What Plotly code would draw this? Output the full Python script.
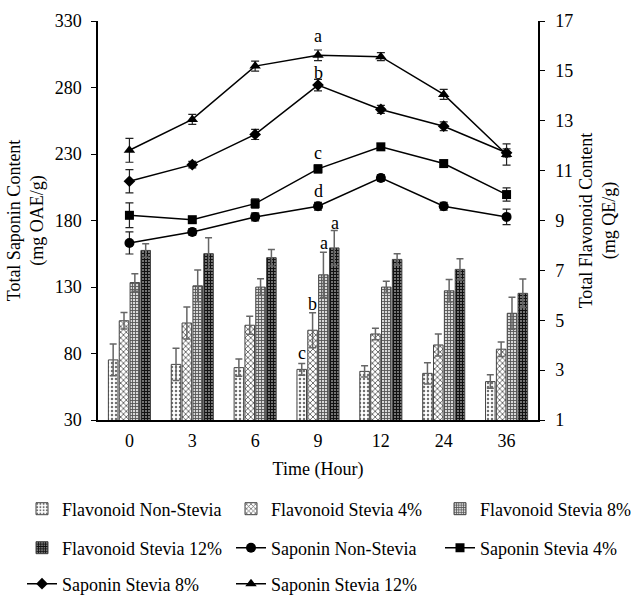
import plotly.graph_objects as go

times = ["0", "3", "6", "9", "12", "24", "36"]

# Flavonoid (right axis, mg QE/g)
flav_ns = [3.41, 3.23, 3.10, 3.03, 2.95, 2.87, 2.54]
flav_4 = [4.98, 4.89, 4.80, 4.60, 4.45, 4.01, 3.84]
flav_8 = [6.51, 6.38, 6.33, 6.82, 6.33, 6.18, 5.28]
flav_12 = [7.80, 7.67, 7.51, 7.90, 7.44, 7.04, 6.08]
flav_ns_err = [0.64, 0.65, 0.35, 0.24, 0.23, 0.43, 0.27]
flav_4_err = [0.33, 0.64, 0.36, 0.70, 0.23, 0.44, 0.29]
flav_8_err = [0.35, 0.64, 0.33, 0.91, 0.23, 0.45, 0.64]
flav_12_err = [0.27, 0.64, 0.33, 0.70, 0.23, 0.43, 0.57]

# Saponin (left axis, mg OAE/g)
sap_ns = [163.1, 171.4, 182.7, 190.7, 212.0, 190.7, 182.7]
sap_4 = [183.9, 180.6, 192.7, 218.8, 235.4, 222.8, 199.5]
sap_8 = [209.5, 222.0, 244.7, 281.8, 263.5, 250.9, 230.9]
sap_12 = [232.8, 256.0, 296.1, 304.2, 303.2, 274.8, 229.6]
sap_ns_err = [8.3, 2.5, 3.0, 3.0, 2.5, 3.0, 5.8]
sap_4_err = [9.3, 2.0, 3.5, 3.0, 2.5, 2.5, 5.0]
sap_8_err = [8.8, 2.5, 3.8, 4.3, 3.0, 3.3, 3.0]
sap_12_err = [9.0, 3.8, 3.8, 4.0, 3.0, 3.8, 8.0]

# significance letters (at time "9")
letter_time = "9"
sap_letters = ["a", "b", "c", "d"]
sap_letter_y = [318.5, 291.0, 231.0, 202.0]
flav_letters = ["c", "b", "a", "a"]
flav_letter_y = [3.69, 5.65, 8.10, 8.90]

font = "Liberation Serif"
W, H = 634, 595
fig = go.Figure()

# legend slots: (text-left x px, row centre y px)
col_x = [22, 231, 440]
row_y = [509, 548, 584]
slots = [(0, 0), (1, 0), (2, 0), (0, 1), (1, 1), (2, 1), (0, 2), (1, 2)]
legend_ids = ["legend"] + ["legend%d" % i for i in range(2, 9)]

bar_specs = [
    ("Flavonoid Non-Stevia", flav_ns, flav_ns_err, ".", "#ffffff", "#707070", 4, 0.3),
    ("Flavonoid Stevia 4%", flav_4, flav_4_err, "x", "#ffffff", "#606060", 4, 0.4),
    ("Flavonoid Stevia 8%", flav_8, flav_8_err, "+", "#d8d8d8", "#555555", 3, 0.5),
    ("Flavonoid Stevia 12%", flav_12, flav_12_err, "+", "#b0b0b0", "#111111", 3, 0.7),
]
k = 0
for name, vals, err, shape, bg, fg, size, sol in bar_specs:
    fig.add_trace(go.Bar(
        x=times, y=vals, name=name, yaxis="y", legend=legend_ids[k],
        marker=dict(color=bg, line=dict(color="#444444", width=1),
                    pattern=dict(shape=shape, bgcolor=bg, fgcolor=fg, size=size,
                                 solidity=sol, fillmode="replace")),
        error_y=dict(type="data", array=err, visible=True, color="#666666",
                     thickness=1.5, width=3.5),
    ))
    k += 1

line_specs = [
    ("Saponin Non-Stevia", sap_ns, sap_ns_err, "circle", 10),
    ("Saponin Stevia 4%", sap_4, sap_4_err, "square", 9),
    ("Saponin Stevia 8%", sap_8, sap_8_err, "diamond", 9),
    ("Saponin Stevia 12%", sap_12, sap_12_err, "triangle-up", 10),
]
for name, vals, err, sym, sz in line_specs:
    fig.add_trace(go.Scatter(
        x=times, y=vals, name=name, yaxis="y2", legend=legend_ids[k], mode="lines+markers",
        line=dict(color="black", width=1.5),
        marker=dict(symbol=sym, size=sz, color="black"),
        error_y=dict(type="data", array=err, visible=True, color="#222222",
                     thickness=1.2, width=4),
    ))
    k += 1

xi = times.index(letter_time)
annotations = []
for t, yv in zip(sap_letters, sap_letter_y):
    annotations.append(dict(x=xi, y=yv, xref="x", yref="y2", text=t, showarrow=False,
                            font=dict(family=font, size=18, color="black")))
offsets = [-16.5, -5.5, 5.5, 16.5]
for t, yv, dx in zip(flav_letters, flav_letter_y, offsets):
    annotations.append(dict(x=xi, y=yv, xref="x", yref="y", text=t, showarrow=False, xshift=dx,
                            font=dict(family=font, size=18, color="black")))

legends = {}
for lid, (c, r) in zip(legend_ids, slots):
    legends[lid] = dict(orientation="h", xref="container", yref="container",
                        x=col_x[c] / W, y=1 - row_y[r] / H,
                        xanchor="left", yanchor="middle",
                        font=dict(family=font, size=18, color="black"),
                        bgcolor="rgba(0,0,0,0)", itemwidth=30)

fig.update_layout(
    width=W, height=H,
    margin=dict(l=98, r=96, t=21, b=175),
    paper_bgcolor="white", plot_bgcolor="white",
    font=dict(family=font, size=18, color="black"),
    barmode="group", bargap=0.31, bargroupgap=0.12,
    showlegend=True,
    xaxis=dict(type="category", range=[-0.5, len(times) - 0.5], showline=True,
               linecolor="black", linewidth=1.5,
               ticks="", tickfont=dict(family=font, size=18), ticklabelstandoff=4,
               title=dict(text="Time (Hour)", font=dict(family=font, size=18), standoff=12)),
    yaxis=dict(side="right", range=[1, 17], dtick=2, tick0=1, showgrid=False,
               showline=True, linecolor="black", linewidth=1.5, ticks="outside",
               ticklen=5, tickcolor="black", zeroline=False, ticklabelstandoff=7,
               tickfont=dict(family=font, size=18),
               title=dict(text="Total Flavonoid Content<br>(mg QE/g)",
                          font=dict(family=font, size=18), standoff=7)),
    yaxis2=dict(side="left", overlaying="y", range=[30, 330], dtick=50, tick0=30,
                showgrid=False, showline=True, linecolor="black", linewidth=1.5,
                ticks="outside", ticklen=5, tickcolor="black", zeroline=False,
                ticklabelstandoff=6,
                tickfont=dict(family=font, size=18),
                title=dict(text="Total Saponin Content<br>(mg OAE/g)",
                           font=dict(family=font, size=18), standoff=6)),
    annotations=annotations,
    **legends,
)

fig.write_html("out.html")
